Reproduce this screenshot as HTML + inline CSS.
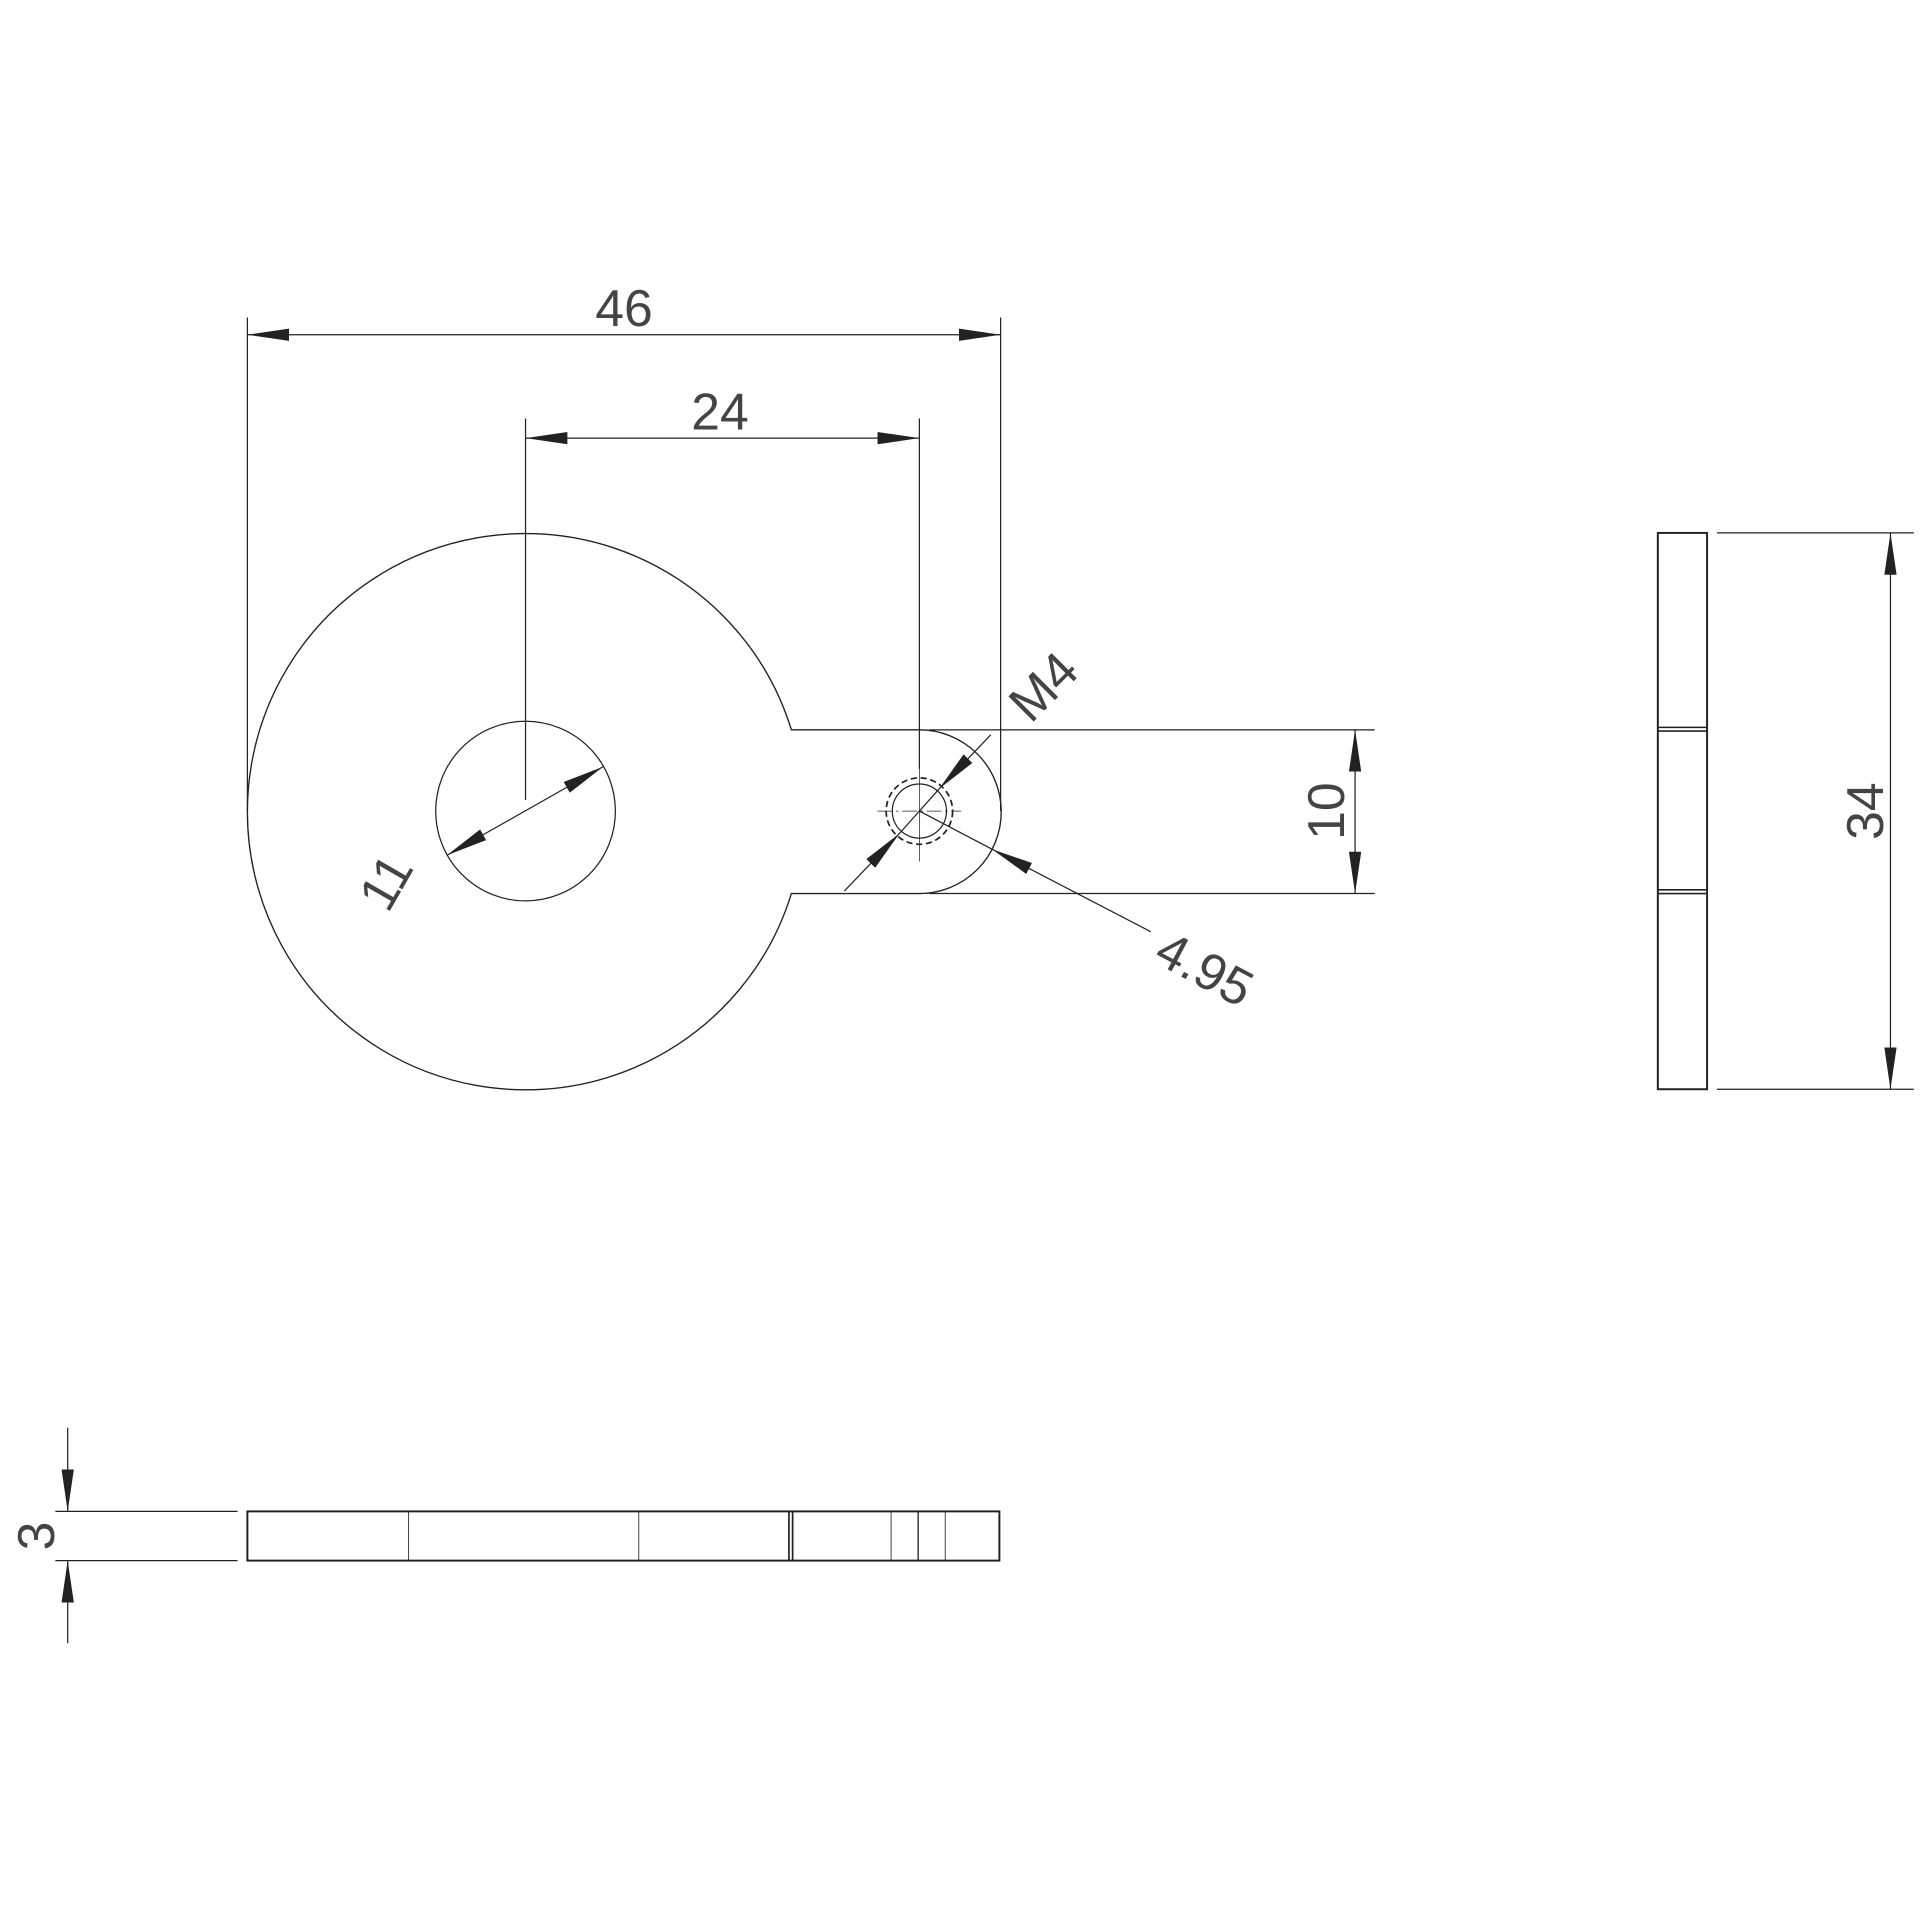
<!DOCTYPE html>
<html><head><meta charset="utf-8"><style>html,body{margin:0;padding:0;background:#fff}svg{display:block}</style></head>
<body>
<svg width="1920" height="1920" viewBox="0 0 1560 1560" xmlns="http://www.w3.org/2000/svg">
<defs>
<marker id="a" viewBox="0 0 34 10" refX="34" refY="5" markerWidth="34" markerHeight="10" markerUnits="userSpaceOnUse" orient="auto"><path d="M0,0 L34,5 L0,10 Z" fill="#222"/></marker>
<marker id="b" viewBox="0 0 34 10" refX="0" refY="5" markerWidth="34" markerHeight="10" markerUnits="userSpaceOnUse" orient="auto"><path d="M34,0 L0,5 L34,10 Z" fill="#222"/></marker>
</defs>
<g fill="none" stroke="#222" stroke-width="1">
<path d="M643,593 A226,226 0 1 0 643,726 L747,726 A66.5,66.5 0 0 0 747,593 Z" stroke-width="1.1"/>
<circle cx="427" cy="659" r="73"/>
<circle cx="747" cy="659" r="22"/>
<circle cx="747" cy="659" r="27" stroke-dasharray="5,3" stroke-width="1.4"/>
<line x1="713" y1="659" x2="781" y2="659" stroke-width="0.6" stroke-dasharray="12,3,2,3"/>
<line x1="747" y1="625" x2="747" y2="700" stroke-width="0.6"/>
<line x1="201" y1="258" x2="201" y2="659"/>
<line x1="813" y1="258" x2="813" y2="659"/>
<line x1="201" y1="272" x2="813" y2="272" marker-start="url(#b)" marker-end="url(#a)"/>
<line x1="427" y1="340" x2="427" y2="650"/>
<line x1="747" y1="340" x2="747" y2="625"/>
<line x1="427" y1="356" x2="747" y2="356" marker-start="url(#b)" marker-end="url(#a)"/>
<line x1="363" y1="695" x2="490" y2="623" marker-start="url(#b)" marker-end="url(#a)"/>
<line x1="755" y1="593" x2="1117" y2="593"/>
<line x1="755" y1="726" x2="1117" y2="726"/>
<line x1="1101" y1="593" x2="1101" y2="726" marker-start="url(#b)" marker-end="url(#a)"/>
<line x1="805" y1="597" x2="763" y2="641" marker-end="url(#a)"/>
<line x1="686" y1="724" x2="731" y2="677" marker-end="url(#a)"/>
<line x1="763" y1="641" x2="731" y2="677"/>
<line x1="935" y1="757" x2="806" y2="690" marker-end="url(#a)"/>
<line x1="806" y1="690" x2="747" y2="659"/>
<rect x="1347" y="433" width="40" height="452" stroke-width="1.6"/>
<line x1="1347" y1="591" x2="1387" y2="591" stroke-width="1.3"/>
<line x1="1347" y1="594" x2="1387" y2="594" stroke-width="1.3"/>
<line x1="1347" y1="723" x2="1387" y2="723" stroke-width="1.3"/>
<line x1="1347" y1="726" x2="1387" y2="726" stroke-width="1.3"/>
<line x1="1395" y1="433" x2="1555" y2="433"/>
<line x1="1395" y1="885" x2="1555" y2="885"/>
<line x1="1536" y1="433" x2="1536" y2="885" marker-start="url(#b)" marker-end="url(#a)"/>
<rect x="201" y="1228" width="611" height="40" stroke-width="1.6"/>
<line x1="332" y1="1228" x2="332" y2="1268" stroke-width="0.7"/>
<line x1="519" y1="1228" x2="519" y2="1268" stroke-width="0.7"/>
<line x1="641" y1="1228" x2="641" y2="1268" stroke-width="1.4"/>
<line x1="644" y1="1228" x2="644" y2="1268" stroke-width="1.4"/>
<line x1="724" y1="1228" x2="724" y2="1268" stroke-width="0.7"/>
<line x1="746" y1="1228" x2="746" y2="1268" stroke-width="1.1"/>
<line x1="768" y1="1228" x2="768" y2="1268" stroke-width="0.7"/>
<line x1="45" y1="1228" x2="193" y2="1228"/>
<line x1="45" y1="1268" x2="193" y2="1268"/>
<line x1="55" y1="1160" x2="55" y2="1228" marker-end="url(#a)"/>
<line x1="55" y1="1335" x2="55" y2="1268" marker-end="url(#a)"/>
</g>
<g font-family="Liberation Sans, sans-serif" font-size="42" fill="#444" text-anchor="middle">
<text x="507" y="265">46</text>
<text x="585" y="349">24</text>
<text transform="translate(326,724) rotate(-60)">11</text>
<text transform="translate(1092,659) rotate(-90)">10</text>
<text transform="translate(1530,659) rotate(-90)">34</text>
<text transform="translate(44,1248) rotate(-90)">3</text>
<text transform="translate(858,568) rotate(-45)">M4</text>
<text transform="translate(972,800) rotate(28)">4.95</text>
</g>
</svg>
</body></html>
